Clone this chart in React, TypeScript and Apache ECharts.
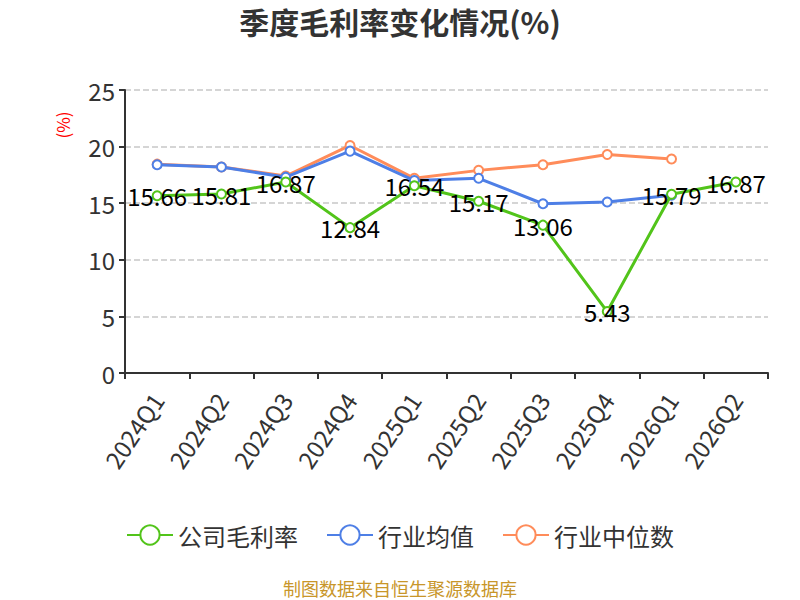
import React, { useEffect, useRef } from "react";
import * as echarts from "echarts";

const categories = ["2024Q1", "2024Q2", "2024Q3", "2024Q4", "2025Q1", "2025Q2", "2025Q3", "2025Q4", "2026Q1", "2026Q2"];
const companyValues = [15.66, 15.81, 16.87, 12.84, 16.54, 15.17, 13.06, 5.43, 15.79, 16.87];
const industryAvg = [18.4, 18.2, 17.3, 19.6, 17.0, 17.2, 14.95, 15.1, 15.7, null];
const industryMedian = [18.45, 18.2, 17.4, 20.1, 17.2, 17.9, 18.4, 19.3, 18.9, null];
const seriesNames = ["公司毛利率", "行业均值", "行业中位数"];
const colors = ["#52c41a", "#4e7fe6", "#ff8c5a"];

const FONT = "'Noto Sans CJK SC', 'Noto Sans', sans-serif";

export default function App() {
  const ref = useRef<HTMLDivElement>(null);
  useEffect(() => {
    if (!ref.current) return;
    const chart = echarts.init(ref.current, undefined, { renderer: "svg" });
    const mk = (name: string, data: (number | null)[], color: string, z: number, label: boolean) => ({
      name,
      type: "line",
      data,
      z,
      symbol: "emptyCircle",
      symbolSize: 9,
      lineStyle: { color, width: 3 },
      itemStyle: { color, borderWidth: 2 },
      label: label
        ? { show: true, position: "inside", color: "#000", fontSize: 24, fontFamily: FONT }
        : { show: false },
    });
    chart.setOption({
      animation: false,
      color: colors,
      textStyle: { fontFamily: FONT },
      title: {
        text: "季度毛利率变化情况(%)",
        left: "center",
        top: 1,
        textStyle: { fontSize: 30, fontWeight: "bold", color: "#333", fontFamily: FONT },
      },
      legend: {
        data: seriesNames,
        top: 518,
        left: "center",
        itemWidth: 46,
        itemHeight: 24,
        itemGap: 28,
        textStyle: { fontSize: 24, color: "#333", fontFamily: FONT },
      },
      grid: { left: 125, right: 32, top: 90, bottom: 227, containLabel: false },
      xAxis: {
        type: "category",
        data: categories,
        boundaryGap: true,
        axisLine: { lineStyle: { color: "#333", width: 2 } },
        axisTick: { show: true, length: 6, lineStyle: { color: "#333", width: 2 } },
        axisLabel: { rotate: 56, fontSize: 24, color: "#333", margin: 22, interval: 0, fontFamily: FONT },
      },
      yAxis: {
        type: "value",
        min: 0,
        max: 25,
        interval: 5,
        axisLine: { show: true, lineStyle: { color: "#333", width: 2 } },
        axisTick: { show: true, length: 6, lineStyle: { color: "#333", width: 2 } },
        axisLabel: { fontSize: 24, color: "#333", margin: 10, fontFamily: FONT },
        splitLine: { lineStyle: { type: "dashed", color: "#c8c8c8", width: 1.5 } },
      },
      graphic: [
        {
          type: "text",
          x: 62,
          y: 125,
          rotation: Math.PI / 2,
          style: { text: "(%)", fill: "#f00", fontSize: 17, fontFamily: FONT, align: "center", verticalAlign: "middle" },
        },
        {
          type: "text",
          x: 400,
          y: 588,
          style: { text: "制图数据来自恒生聚源数据库", fill: "#c8962a", fontSize: 18, fontFamily: FONT, align: "center", verticalAlign: "middle" },
        },
      ],
      series: [
        mk(seriesNames[1], industryAvg, colors[1], 3, false),
        mk(seriesNames[2], industryMedian, colors[2], 2, false),
        mk(seriesNames[0], companyValues, colors[0], 4, true),
      ],
    });
    return () => chart.dispose();
  }, []);
  return <div ref={ref} style={{ position: "absolute", left: 0, top: 0, width: 800, height: 600 }} />;
}
